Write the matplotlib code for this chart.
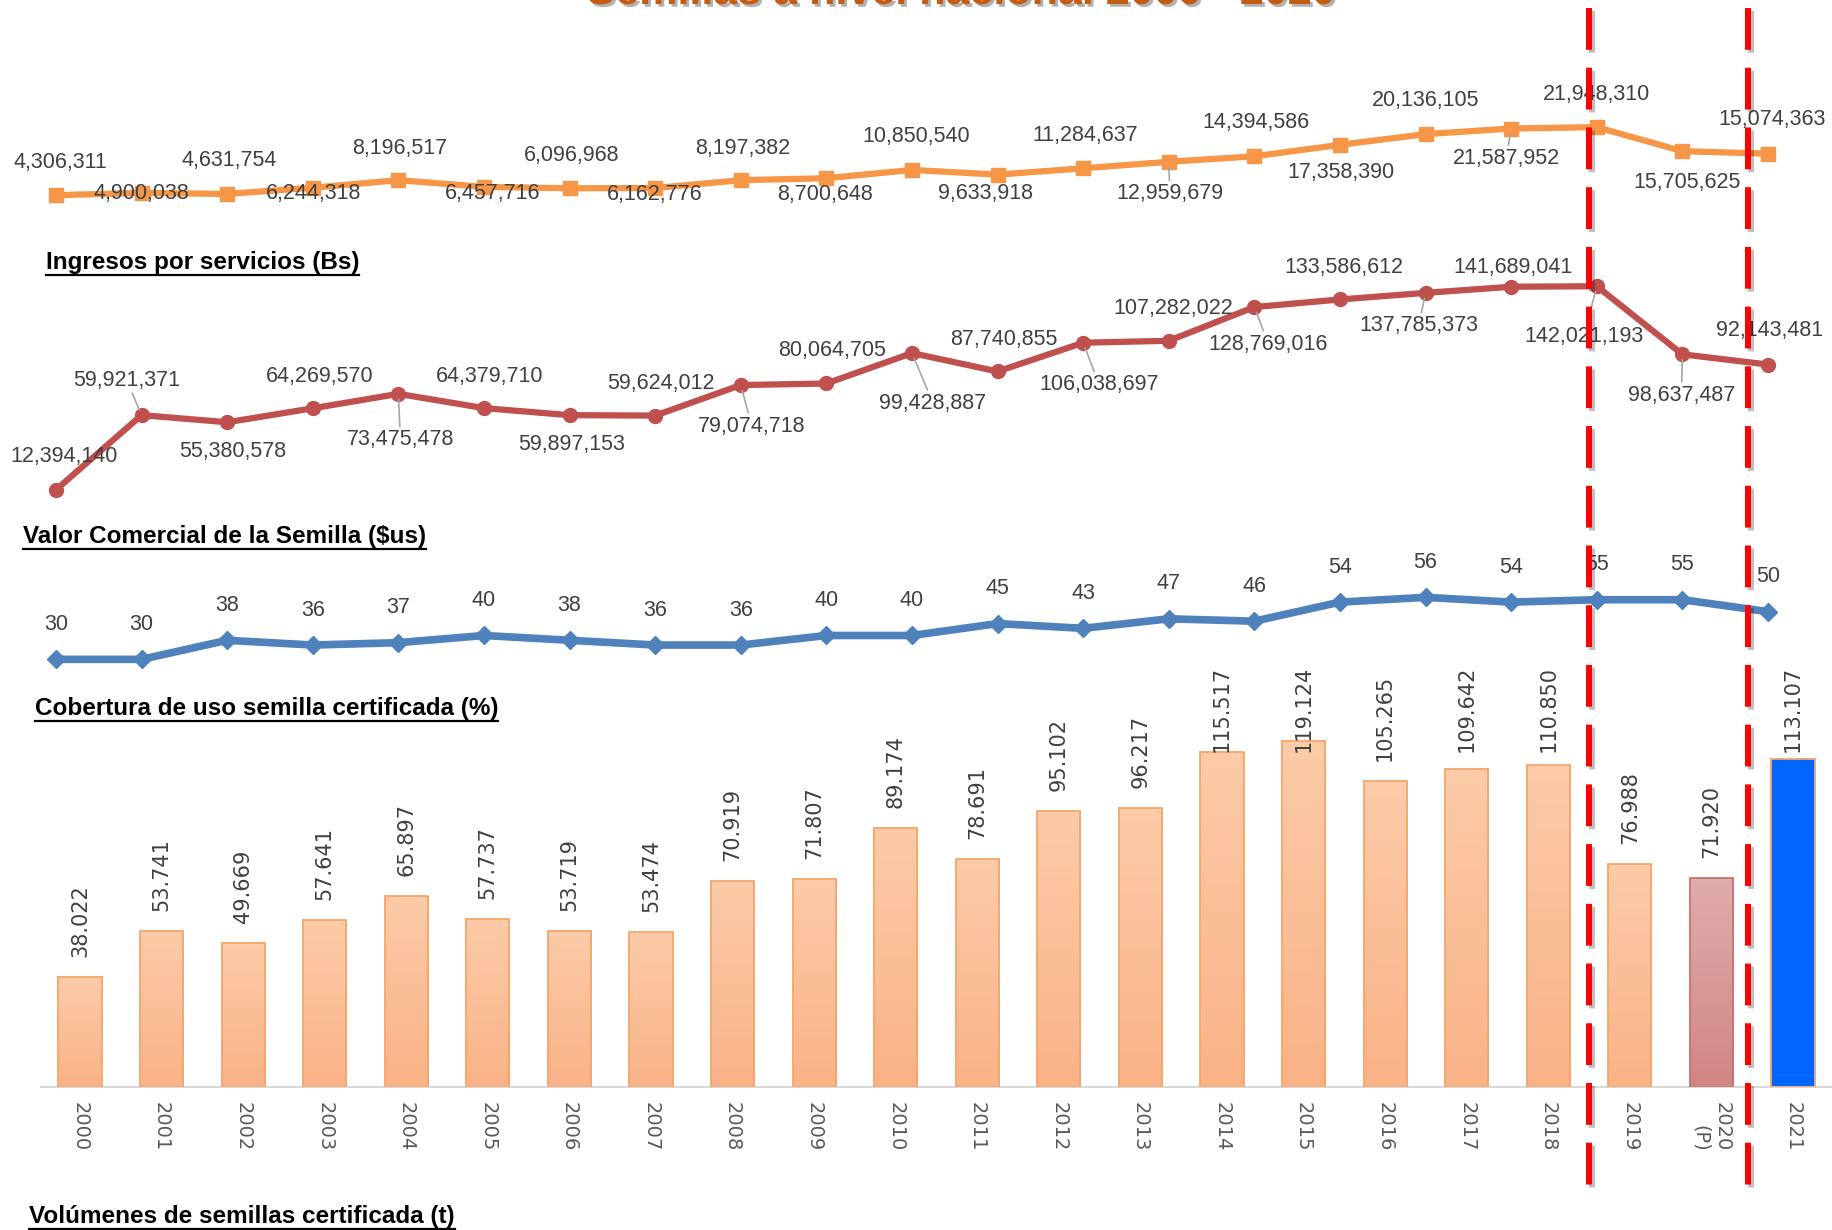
import numpy as np
import matplotlib
matplotlib.use("Agg")
import matplotlib.pyplot as plt
import matplotlib.transforms as mtransforms
from matplotlib import patheffects
from matplotlib.colors import LinearSegmentedColormap
from matplotlib.lines import Line2D

# --------------------
# Data
# --------------------
years_lines = list(range(2000, 2021))
years_bars = list(range(2000, 2022))
bar_ticklabels = [str(y) for y in range(2000, 2020)] + ["2020\n(P)", "2021"]

ingresos_bs = [4306311, 4900038, 4631754, 6244318, 8196517, 6457716, 6096968,
               6162776, 8197382, 8700648, 10850540, 9633918, 11284637, 12959679,
               14394586, 17358390, 20136105, 21587952, 21948310, 15705625, 15074363]
valor_comercial = [12394140, 59921371, 55380578, 64269570, 73475478, 64379710,
                   59897153, 59624012, 79074718, 80064705, 99428887, 87740855,
                   106038697, 107282022, 128769016, 133586612, 137785373,
                   141689041, 142021193, 98637487, 92143481]
cobertura = [30, 30, 38, 36, 37, 40, 38, 36, 36, 40, 40, 45, 43, 47, 46, 54, 56,
             54, 55, 55, 50]
volumenes = [38.022, 53.741, 49.669, 57.641, 65.897, 57.737, 53.719, 53.474,
             70.919, 71.807, 89.174, 78.691, 95.102, 96.217, 115.517, 119.124,
             105.265, 109.642, 110.850, 76.988, 71.920, 113.107]

# period split lines (between 2018/2019 and 2020/2021)
separators = [2018.5, 2020.45]

# --------------------
# Label placement (pixel offsets, as moved by hand in the original)
# --------------------
off_ingresos = [(4, 33), (0, -1), (2, 33), (1, -6), (1, 32), (9, -7), (2, 33),
                (-1, -6), (2, 32), (-1, -16), (4, 33), (-12, -19), (2, 33),
                (1, -32), (2, 34), (1, -28), (0, 34), (-5, -30), (0, 33),
                (5, -31), (4, 34)]
lead_ingresos = [13, 17]
off_valor = [(8, 33), (-15, 35), (6, -29), (7, 32), (2, -46), (6, 32), (2, -29),
             (6, 32), (11, -41), (6, 33), (21, -50), (6, 32), (16, -42), (4, 32),
             (14, -37), (4, 32), (-7, -33), (2, 19), (-13, -50), (-1, -41), (2, 34)]
lead_valor = [1, 4, 8, 10, 12, 14, 16, 18, 19]
off_cobertura = [(0, 35)] * len(cobertura)

# --------------------
# Layout helpers (figure is 1833 x 1230 px)
# --------------------
W, H = 1833, 1230
LINE_X0, LINE_DX = 56, 85.6    # pixel of year 2000 and step on the line panels
BAR_X0, BAR_DX = 80, 81.57     # same for the bars
SANS = ["Liberation Sans", "DejaVu Sans"]
LABEL_COLOR = "#404040"

fig = plt.figure(figsize=(W / 100, H / 100), dpi=100)


def add_panel(top, bottom, zero_px, px_per_unit, x0, dx, left=0, right=W):
    ax = fig.add_axes([left / W, 1 - bottom / H, (right - left) / W, (bottom - top) / H])
    ax.set_ylim((zero_px - bottom) / px_per_unit, (zero_px - top) / px_per_unit)
    ax.set_xlim(2000 + (left - x0) / dx, 2000 + (right - x0) / dx)
    return ax


def line_panel(ax, values, color, marker, ms, offsets, leaders, fmt, lw=4.5):
    ax.plot(years_lines, values, color=color, lw=lw, marker=marker, ms=ms,
            solid_joinstyle="round", clip_on=False, zorder=2)
    for i, (x, v) in enumerate(zip(years_lines, values)):
        arrow = None
        if i in leaders:
            arrow = dict(arrowstyle="-", color="#A6A6A6", lw=1.2, shrinkA=0, shrinkB=4)
        ax.annotate(fmt(v), (x, v), xytext=offsets[i], textcoords="offset pixels",
                    ha="center", va="center", fontsize=15.5, color=LABEL_COLOR,
                    family=SANS, arrowprops=arrow, annotation_clip=False, zorder=3)
    ax.axis("off")


# Ingresos por servicios
ax1 = add_panel(90, 212, 211.8, 3.858e-6, LINE_X0, LINE_DX)
line_panel(ax1, ingresos_bs, "#F79646", "s", 10, off_ingresos, lead_ingresos,
           lambda v: f"{v:,}")

# Valor comercial
ax2 = add_panel(270, 510, 509.2, 1.570e-6, LINE_X0, LINE_DX)
line_panel(ax2, valor_comercial, "#C0504D", "o", 10, off_valor, lead_valor,
           lambda v: f"{v:,}")

# Cobertura
ax3 = add_panel(560, 720, 730.9, 2.385, LINE_X0, LINE_DX)
line_panel(ax3, cobertura, "#4F81BD", "D", 9, off_cobertura, [],
           lambda v: f"{v}", lw=5.5)

# --------------------
# Bars
# --------------------
BAR_TOP, BAR_ZERO = 666, 1087.2
axb = add_panel(BAR_TOP, BAR_ZERO, BAR_ZERO, 2.905, BAR_X0, BAR_DX, left=41)
xl, yl = axb.get_xlim(), axb.get_ylim()

fill_top = ["#FCCBA8"] * 20 + ["#DFADAD", "#0066FF"]
fill_bot = ["#FAB287"] * 20 + ["#D38585", "#0066FF"]
edges = ["#F6A56A"] * 20 + ["#C97272", "#F6A56A"]

bars = axb.bar(years_bars, volumenes, width=0.53, color="none", edgecolor=edges,
               lw=1.3, zorder=3)
grad = np.linspace(0, 1, 100).reshape(-1, 1)
for rect, ct, cb in zip(bars, fill_top, fill_bot):
    cmap = LinearSegmentedColormap.from_list("g", [cb, ct])
    im = axb.imshow(grad, extent=[rect.get_x(), rect.get_x() + rect.get_width(),
                                  0, rect.get_height()],
                    aspect="auto", cmap=cmap, origin="lower", zorder=2)
    im.set_clip_path(rect)
axb.set_xlim(xl)
axb.set_ylim(yl)

bar_texts = []
for x, v in zip(years_bars, volumenes):
    t = axb.annotate(f"{v:.3f}", (x, v), xytext=(0, 20), textcoords="offset pixels",
                     rotation=90, ha="center", va="bottom", fontsize=15,
                     color=LABEL_COLOR, family="DejaVu Sans", annotation_clip=False,
                     zorder=4)
    bar_texts.append(t)

for s in ["top", "left", "right"]:
    axb.spines[s].set_visible(False)
axb.spines["bottom"].set_color("#D9D9D9")
axb.spines["bottom"].set_linewidth(1.5)
axb.set_yticks([])
axb.set_xticks(years_bars)
axb.set_xticklabels(bar_ticklabels, rotation=-90, fontsize=14, color="#595959",
                    multialignment="right")
axb.tick_params(axis="x", length=0, pad=11)
axb.patch.set_visible(False)

# --------------------
# Section titles, main title, dashed separators
# --------------------
section_titles = [
    ("Ingresos por servicios (Bs)", 46, 262),
    ("Valor Comercial de la Semilla ($us)", 23, 537),
    ("Cobertura de uso semilla certificada (%)", 35, 708),
    ("Volúmenes de semillas certificada (t)", 29, 1216),
]
title_texts = []
for txt, x, y in section_titles:
    t = fig.text(x / W, 1 - y / H, txt, fontsize=17.5, weight="bold", family=SANS,
                 color="black", ha="left", va="center")
    title_texts.append(t)

fig.text(960 / W, 1 - 4 / H, "Semillas a nivel nacional 2000 - 2020", fontsize=31,
         weight="bold", color="#C55A11", ha="center", va="baseline", family=SANS,
         path_effects=[patheffects.SimplePatchShadow(offset=(2, -2), shadow_rgbFace="#7F7F7F",
                                                     alpha=0.6),
                       patheffects.Normal()])

trans = mtransforms.blended_transform_factory(axb.transData, fig.transFigure)
for sx in separators:
    ln = Line2D([sx, sx], [1 - 8 / H, 1 - 1190 / H], transform=trans, color="#FF0000",
                lw=4.3, linestyle=(0, (7, 3)), zorder=20,
                path_effects=[patheffects.SimpleLineShadow(offset=(2, -2), alpha=0.25),
                              patheffects.Normal()])
    fig.add_artist(ln)

# --------------------
# Fix-ups needing rendered sizes: clamp bar labels, underline titles
# --------------------
fig.canvas.draw()
renderer = fig.canvas.get_renderer()
cap = H - BAR_TOP
for t in bar_texts:
    bb = t.get_window_extent(renderer)
    if bb.y1 > cap:
        ox, oy = t.xyann
        t.xyann = (ox, oy - (bb.y1 - cap))

for t in title_texts:
    bb = t.get_window_extent(renderer)
    fig.add_artist(Line2D([bb.x0 / W, bb.x1 / W], [(bb.y0 - 1) / H, (bb.y0 - 1) / H],
                          transform=fig.transFigure, color="black", lw=1.6))

fig.savefig("out.png", dpi=100)
